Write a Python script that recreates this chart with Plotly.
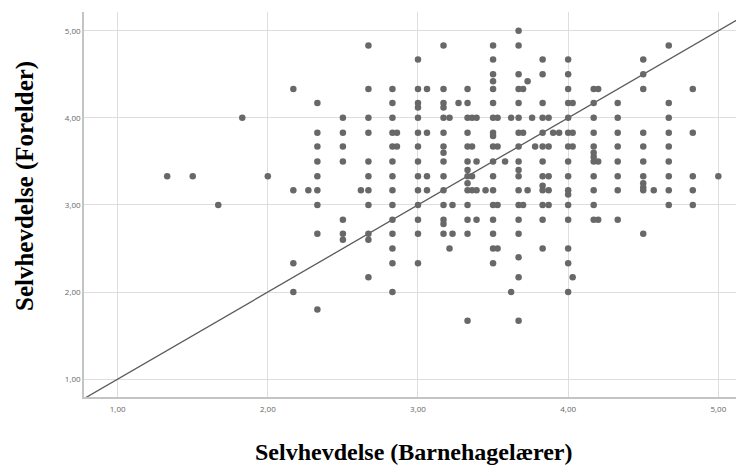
import plotly.graph_objects as go

# Teacher (x) scores and parent (y) scores, one list per teacher-score column
col_x = [1.33, 1.5, 1.67, 1.83, 2.0, 2.17, 2.27, 2.33, 2.5, 2.62, 2.67, 2.83, 2.86,
         3.0, 3.06, 3.17, 3.21, 3.23, 3.27, 3.33, 3.36, 3.39, 3.45, 3.5, 3.53, 3.58,
         3.62, 3.67, 3.7, 3.73, 3.76, 3.78, 3.83, 3.87, 3.9, 3.94, 4.0, 4.03, 4.17,
         4.2, 4.33, 4.5, 4.57, 4.67, 4.83, 5.0]
col_y = [
    [3.33], [3.33], [3.0], [4.0], [3.33],
    [4.33, 3.17, 2.33, 2.0],
    [3.17],
    [4.17, 3.83, 3.67, 3.5, 3.33, 3.17, 3.0, 2.67, 1.8],
    [4.0, 3.83, 3.67, 3.5, 2.83, 2.67, 2.6],
    [3.17],
    [4.83, 4.33, 4.0, 3.83, 3.5, 3.33, 3.17, 3.0, 2.67, 2.6, 2.17],
    [4.33, 4.17, 4.0, 3.83, 3.67, 3.5, 3.33, 3.17, 3.0, 2.83, 2.67, 2.5, 2.33, 2.0],
    [3.83, 3.67],
    [4.67, 4.33, 4.17, 4.12, 4.0, 3.83, 3.67, 3.5, 3.33, 3.17, 3.0, 2.83, 2.67, 2.33],
    [4.33, 3.83, 3.33, 3.17],
    [4.83, 4.33, 4.17, 4.12, 4.0, 3.83, 3.67, 3.6, 3.5, 3.33, 3.17, 3.0, 2.83, 2.78, 2.67],
    [4.0, 2.5],
    [3.0, 2.67],
    [4.17],
    [4.33, 4.17, 4.0, 3.83, 3.67, 3.5, 3.4, 3.33, 3.25, 3.17, 3.0, 2.83, 2.67, 1.67],
    [4.0, 3.67, 3.33, 3.17],
    [3.5, 3.17, 4.0, 2.83],
    [3.17],
    [4.83, 4.67, 4.5, 4.42, 4.33, 4.17, 4.0, 3.83, 3.79, 3.67, 3.5, 3.33, 3.17, 3.0, 2.83, 2.67, 2.5, 2.33],
    [4.0, 3.67, 3.0, 2.5],
    [3.5],
    [4.0, 2.0],
    [5.0, 4.83, 4.5, 4.33, 4.17, 4.0, 3.83, 3.67, 3.5, 3.4, 3.33, 3.17, 3.0, 2.83, 2.67, 2.4, 2.17, 1.67],
    [4.33, 3.83, 3.0],
    [4.42, 3.17],
    [4.0],
    [3.67],
    [4.67, 4.5, 4.17, 4.0, 3.83, 3.67, 3.5, 3.33, 3.22, 3.17, 3.0, 2.83, 2.5],
    [4.0, 3.67, 3.33, 3.17, 3.0],
    [3.83],
    [3.83],
    [4.67, 4.5, 4.33, 4.17, 4.0, 3.83, 3.67, 3.5, 3.33, 3.17, 3.12, 3.0, 2.83, 2.5, 2.33, 2.0],
    [4.17, 3.83, 3.67, 2.17],
    [4.33, 4.17, 4.0, 3.83, 3.67, 3.6, 3.55, 3.5, 3.33, 3.17, 3.0, 2.83],
    [4.33, 3.5, 2.83],
    [4.17, 4.0, 3.83, 3.67, 3.5, 3.33, 3.17, 2.83],
    [4.67, 4.5, 4.33, 3.83, 3.67, 3.5, 3.33, 3.25, 3.2, 3.17, 2.67],
    [3.17],
    [4.83, 4.17, 4.0, 3.83, 3.67, 3.5, 3.33, 3.17, 3.0],
    [4.33, 3.83, 3.33, 3.17, 3.0],
    [3.33],
]

tick_vals = [1, 2, 3, 4, 5]
tick_text = ["1,00", "2,00", "3,00", "4,00", "5,00"]
x_range = [0.776, 5.171]
y_range = [0.795, 5.215]

teacher = []
parent = []
for xv, ys in zip(col_x, col_y):
    for yv in ys:
        teacher.append(xv)
        parent.append(yv)

fig = go.Figure()
fig.add_trace(go.Scatter(
    x=[x_range[0], x_range[1]], y=[x_range[0], x_range[1]],
    mode="lines", line=dict(color="#5a5a5a", width=1.3),
    hoverinfo="skip", showlegend=False))
fig.add_trace(go.Scatter(
    x=teacher, y=parent, mode="markers",
    marker=dict(color="#686868", size=6.5, line=dict(width=0)),
    showlegend=False))

axis_common = dict(
    showgrid=True, gridcolor="#dedede", gridwidth=1,
    zeroline=False, showline=True, linecolor="#c4c4c4", linewidth=1.5,
    tickmode="array", tickvals=tick_vals, ticktext=tick_text,
    tickfont=dict(family="Open Sans, Arial, sans-serif", size=8, color="#666666"),
    ticks="",
)
fig.update_xaxes(range=x_range, ticklabelstandoff=4, **axis_common)
fig.update_yaxes(range=y_range, **axis_common)

serif = "Liberation Serif, Times New Roman, serif"
fig.update_layout(
    width=736, height=460,
    margin=dict(l=76, r=0, t=4, b=71),
    plot_bgcolor="white", paper_bgcolor="white",
    annotations=[
        dict(text="<b>Selvhevdelse (Barnehagelærer)</b>", xref="paper", yref="paper",
             x=0.5, y=-0.143, xanchor="center", yanchor="middle",
             showarrow=False, font=dict(family=serif, size=24, color="#000000")),
        dict(text="<b>Selvhevdelse (Forelder)</b>", xref="paper", yref="paper",
             x=-0.0894, y=0.548, xanchor="center", yanchor="middle", textangle=-90,
             showarrow=False, font=dict(family=serif, size=25, color="#000000")),
    ],
)

fig.write_html("out.html")
